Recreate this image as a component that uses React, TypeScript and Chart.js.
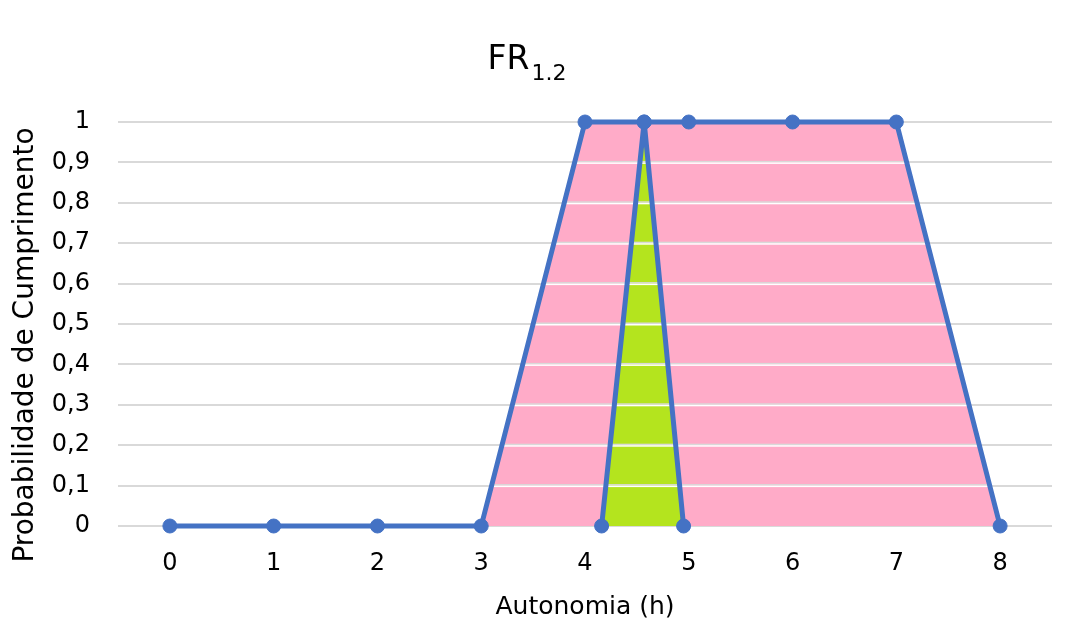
import React, { useEffect, useRef } from "react";
import { Chart, registerables } from "chart.js";

Chart.register(...registerables);

const titleMain = "FR";
const titleSub = "1.2";
const xAxisTitle = "Autonomia (h)";
const yAxisTitle = "Probabilidade de Cumprimento";

const xTickValues = [0, 1, 2, 3, 4, 5, 6, 7, 8];
const yTickValues = [0, 0.1, 0.2, 0.3, 0.4, 0.5, 0.6, 0.7, 0.8, 0.9, 1];

const mainX = [0, 1, 2, 3, 4, 4.57, 5, 6, 7, 8];
const mainY = [0, 0, 0, 0, 1, 1, 1, 1, 1, 0];

const triX = [4.16, 4.57, 4.95];
const triY = [0, 1, 0];

const BLUE = "#4472C4";
const PINK = "#FFABC8";
const GREEN = "#B4E41E";
const GRID = "#D9D9D9";
const FONT = "'DejaVu Sans', sans-serif";

export default function App() {
  const ref = useRef<HTMLCanvasElement>(null);

  useEffect(() => {
    if (!ref.current) return;

    const stripes = {
      id: "stripes",
      beforeDatasetsDraw(chart: any) {
        const meta = chart.getDatasetMeta(1);
        const ys = chart.scales.y;
        const area = chart.chartArea;
        const ctx = chart.ctx;
        const pts = meta.data;
        if (!pts || !pts.length) return;
        const base = ys.getPixelForValue(0);
        ctx.save();
        ctx.beginPath();
        ctx.moveTo(pts[0].x, base);
        for (const p of pts) ctx.lineTo(p.x, p.y);
        ctx.lineTo(pts[pts.length - 1].x, base);
        ctx.closePath();
        ctx.clip();
        for (const v of yTickValues) {
          if (v === 0 || v === 1) continue;
          const y = ys.getPixelForValue(v);
          ctx.fillStyle = GRID;
          ctx.fillRect(area.left, y - 1.5, area.right - area.left, 1.5);
          ctx.fillStyle = "#FFFFFF";
          ctx.fillRect(area.left, y, area.right - area.left, 1.5);
        }
        ctx.restore();
      },
    };

    const textPlugin = {
      id: "texts",
      afterDraw(chart: any) {
        const ctx = chart.ctx;
        ctx.save();
        ctx.fillStyle = "#000000";
        ctx.textBaseline = "alphabetic";
        ctx.textAlign = "left";
        ctx.font = `33px ${FONT}`;
        const w1 = ctx.measureText(titleMain).width;
        ctx.font = `22px ${FONT}`;
        const w2 = ctx.measureText(titleSub).width;
        const total = w1 + 2 + w2;
        const cx = 527;
        const x0 = cx - total / 2;
        ctx.font = `33px ${FONT}`;
        ctx.fillText(titleMain, x0, 69);
        ctx.font = `22px ${FONT}`;
        ctx.fillText(titleSub, x0 + w1 + 2, 80);

        ctx.translate(26, 345);
        ctx.rotate(-Math.PI / 2);
        ctx.textAlign = "center";
        ctx.textBaseline = "middle";
        ctx.font = `28px ${FONT}`;
        ctx.fillText(yAxisTitle, 0, 0);
        ctx.restore();
      },
    };

    const common = {
      borderColor: BLUE,
      fill: "origin",
      borderWidth: 5,
      borderJoinStyle: "round",
      borderCapStyle: "round",
      pointRadius: 7,
      pointBackgroundColor: BLUE,
      pointBorderColor: BLUE,
      pointBorderWidth: 1,
      tension: 0,
      clip: false as any,
    };

    const chart = new Chart(ref.current, {
      type: "line",
      data: {
        datasets: [
          {
            ...common,
            label: "tri",
            data: triX.map((x, i) => ({ x, y: triY[i] })),
            backgroundColor: GREEN,
          },
          {
            ...common,
            label: "main",
            data: mainX.map((x, i) => ({ x, y: mainY[i] })),
            backgroundColor: PINK,
          },
        ] as any,
      },
      options: {
        animation: false,
        responsive: false,
        maintainAspectRatio: false,
        layout: { padding: { top: 122, right: 29, bottom: 0, left: 0 } },
        plugins: {
          legend: { display: false },
          tooltip: { enabled: false },
          title: { display: false },
          filler: { drawTime: "beforeDatasetsDraw" } as any,
        },
        scales: {
          x: {
            type: "linear",
            min: -0.5,
            max: 8.5,
            afterBuildTicks: (s: any) => {
              s.ticks = xTickValues.map((v) => ({ value: v }));
            },
            afterFit: (s: any) => {
              s.height = 103;
            },
            grid: { display: false, drawTicks: false },
            border: { display: false },
            ticks: {
              color: "#000000",
              font: { family: FONT, size: 24 },
              padding: 23,
              maxRotation: 0,
              autoSkip: false,
              callback: (v: any) => String(v),
            },
            title: {
              display: true,
              text: xAxisTitle,
              color: "#000000",
              font: { family: FONT, size: 25 },
              padding: { top: 0, bottom: 7 },
            },
          },
          y: {
            type: "linear",
            min: 0,
            max: 1,
            afterBuildTicks: (s: any) => {
              s.ticks = yTickValues.map((v) => ({ value: v }));
            },
            afterFit: (s: any) => {
              s.width = 118;
            },
            grid: { color: GRID, lineWidth: 2, drawTicks: false },
            border: { display: false },
            ticks: {
              color: "#000000",
              font: { family: FONT, size: 24 },
              padding: 28,
              autoSkip: false,
              callback: (v: any) =>
                v === 0 || v === 1 ? String(v) : Number(v).toFixed(1).replace(".", ","),
            },
            title: { display: false },
          },
        },
      },
      plugins: [stripes, textPlugin],
    });

    return () => chart.destroy();
  }, []);

  return (
    <div style={{ position: "fixed", left: 0, top: 0, width: 1081, height: 629, background: "#fff" }}>
      <canvas ref={ref} width={1081} height={629} style={{ width: 1081, height: 629 }} />
    </div>
  );
}
